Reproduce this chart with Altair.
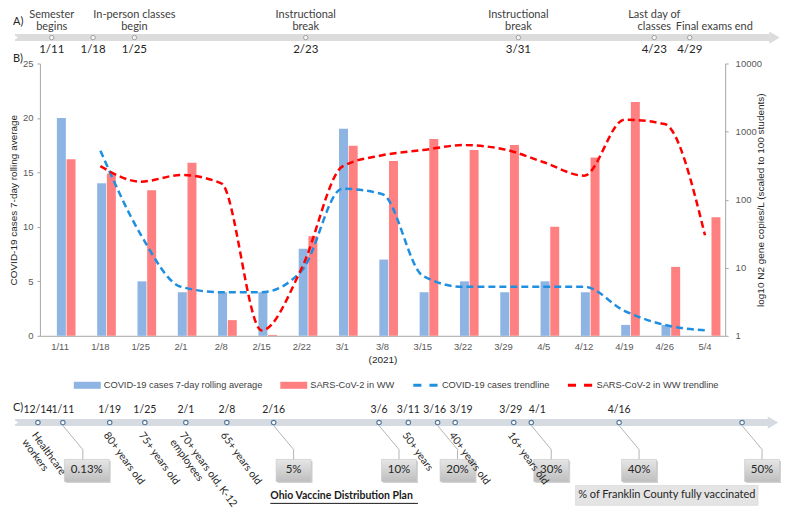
import altair as alt
import pandas as pd

FB = "Liberation Sans"   # Arial-like (panel B)
FT = "Lato"              # Calibri-like (timelines)

# ---------------- Panel A: academic calendar ----------------
a_dates = ["2021/01/11", "2021/01/18", "2021/01/25", "2021/02/23",
           "2021/03/31", "2021/04/23", "2021/04/29"]
a_date_labels = ["1/11", "1/18", "1/25", "2/23", "3/31", "4/23", "4/29"]
a_events = ["Semester\nbegins", "", "In-person classes\nbegin", "Instructional\nbreak",
            "Instructional\nbreak", "Last day of\nclasses", "Final exams end"]

# ---------------- Panel B: weekly data ----------------
weeks = ["1/11", "1/18", "1/25", "2/1", "2/8", "2/15", "2/22", "3/1", "3/8",
         "3/15", "3/22", "3/29", "4/5", "4/12", "4/19", "4/26", "5/4"]
cases_avg = [20, 14, 5, 4, 4, 4, 8, 19, 7, 4, 5, 4, 5, 4, 1, 1, 0]
ww_copies = [391, 243, 138, 348, 1.7, 1.03, 29, 620, 369, 778, 535, 633, 40, 418, 2710, 10.3, 55]
cases_trend = [None, 17, 9.3, 4.5, 4, 4, 6, 13.5, 13, 5.5, 4.5, 4.5, 4.5, 4.5, 2.3, 1, 0.5]
ww_trend = [None, 311, 184, 230, 174, 1.2, 10, 305, 450, 535, 633, 552, 354, 225, 1500, 1290, 30]

legend_names = ["COVID-19 cases 7-day rolling average", "SARS-CoV-2 in WW",
                "COVID-19 cases trendline", "SARS-CoV-2 in WW trendline"]
BLUE_BAR, RED_BAR, BLUE_LINE, RED_LINE = "#8db4e2", "#ff8080", "#1f8fe0", "#ff0000"

# ---------------- Panel C: Ohio vaccine plan ----------------
c_dates = ["2020-12-14", "2021-01-11", "2021-01-19", "2021-01-25", "2021-02-01",
           "2021-02-08", "2021-02-16", "2021-03-06", "2021-03-11", "2021-03-16",
           "2021-03-19", "2021-03-29", "2021-04-01", "2021-04-16", "2021-05-07"]
c_date_labels = ["12/14", "1/11", "1/19", "1/25", "2/1", "2/8", "2/16", "3/6",
                 "3/11", "3/16", "3/19", "3/29", "4/1", "4/16", ""]
c_groups = ["Healthcare\nworkers", "", "80+ years old", "75+ years old",
            "70+ years old, K-12\nemployees", "65+ years old", "", "", "50+ years",
            "", "40+ years old", "16+ years old", "", "", ""]
c_pct = ["", "0.13%", "", "", "", "", "5%", "10%", "", "20%", "", "", "30%", "40%", "50%"]

W = 687

# =============== Panel A ===============
a_df = pd.DataFrame({"date": a_dates, "label": a_date_labels, "event": a_events})
a_span = pd.DataFrame({"start": [a_dates[0]], "end": [a_dates[-1]]})
xa_scale = alt.Scale(domain=[alt.DateTime(year=2021, month=1, date=9),
                             alt.DateTime(year=2021, month=5, date=5)], nice=False)
xa = alt.X("date:T", scale=xa_scale, axis=None)
BAND_A = "#dcdcdc"
YA = 29
a_band = alt.Chart(a_span).mark_rule(strokeWidth=7, color=BAND_A, xOffset=-37, x2Offset=80).encode(
    x=alt.X("start:T", scale=xa_scale, axis=None), x2="end:T", y=alt.value(YA))
a_head = alt.Chart(a_span).mark_point(shape="triangle-right", filled=True, color=BAND_A,
                                      size=150, opacity=1, xOffset=85).encode(
    x=alt.X("end:T", scale=xa_scale, axis=None), y=alt.value(YA))
a_notch = alt.Chart(a_span).mark_point(shape="triangle-right", filled=True, color="white",
                                       size=30, opacity=1, xOffset=-36).encode(
    x=alt.X("start:T", scale=xa_scale, axis=None), y=alt.value(YA))
a_dots = alt.Chart(a_df).mark_circle(size=20, fill="#f5f5f5", stroke="#a0a0a0",
                                     strokeWidth=1, opacity=1).encode(x=xa, y=alt.value(YA))
a_events_t = alt.Chart(a_df).transform_filter(
    f"datum.event != '' && datum.label != '{a_date_labels[-1]}'").mark_text(
    lineBreak="\n", baseline="bottom", align="center", font=FT, fontSize=11,
    lineHeight=12, color="#404040").encode(x=xa, y=alt.value(11), text="event:N")
a_last_t = alt.Chart(a_df).transform_filter(
    f"datum.label == '{a_date_labels[-1]}'").mark_text(
    baseline="bottom", align="left", font=FT, fontSize=11, color="#404040",
    xOffset=-14).encode(x=xa, y=alt.value(23), text="event:N")
a_labels_t = alt.Chart(a_df).mark_text(baseline="middle", align="center", font=FT,
                                       fontSize=11.5, color="#262626").encode(
    x=xa, y=alt.value(41), text="label:N")
a_tag = alt.Chart(pd.DataFrame({"t": ["A)"]})).mark_text(
    align="left", baseline="middle", font=FT, fontSize=11, color="#262626").encode(
    x=alt.value(-27), y=alt.value(13), text="t:N")
panel_a = alt.layer(a_band, a_notch, a_head, a_dots, a_events_t, a_last_t, a_labels_t,
                    a_tag).properties(width=W, height=55)

# =============== Panel B ===============
df_b = pd.DataFrame({"week": weeks, "cases": cases_avg, "ww": ww_copies,
                     "cases_trend": cases_trend, "ww_trend": ww_trend})
GRAY_AX = "#a6a6a6"
FSB = 9.5
x_axis = alt.Axis(title="(2021)", labelAngle=0, ticks=False, domainColor=GRAY_AX,
                  labelFont=FB, labelFontSize=FSB, labelColor="#595959", labelPadding=6,
                  titleFont=FB, titleFontSize=FSB + 0.5, titleFontWeight="normal",
                  titleColor="#262626", titlePadding=3)
xenc = alt.X("week:N", sort=weeks, scale=alt.Scale(paddingInner=0, paddingOuter=0), axis=x_axis)

left_scale = alt.Scale(domain=[0, 25], nice=False, zero=True)
log_scale = alt.Scale(type="log", domain=[1, 10000], nice=False)

blue_bars = alt.Chart(df_b).mark_bar(width=9, xOffset=1.3, color=BLUE_BAR).encode(
    x=xenc,
    y=alt.Y("cases:Q", scale=left_scale,
            axis=alt.Axis(orient="left", values=[0, 5, 10, 15, 20, 25],
                          title="COVID-19 cases 7-day rolling average", grid=False,
                          domainColor=GRAY_AX, tickColor=GRAY_AX, tickSize=3, labelPadding=4,
                          labelFont=FB, labelFontSize=FSB, labelColor="#595959",
                          titleFont=FB, titleFontSize=FSB + 0.5, titleFontWeight="normal",
                          titleColor="#262626", titlePadding=4)))
red_bars = alt.Chart(df_b).mark_bar(width=9, xOffset=11, color=RED_BAR).encode(
    x=xenc,
    y=alt.Y("ww:Q", scale=log_scale,
            axis=alt.Axis(orient="right", values=[1, 10, 100, 1000, 10000], format="d",
                          title="log10 N2 gene copies/L (scaled to 100 students)",
                          titleAngle=270, grid=False, domainColor=GRAY_AX, tickColor=GRAY_AX,
                          tickSize=3, labelPadding=7, labelFont=FB, labelFontSize=FSB,
                          labelColor="#595959", titleFont=FB, titleFontSize=FSB + 0.5,
                          titleFontWeight="normal", titleColor="#262626", titlePadding=4)),
    y2=alt.Y2Datum(1))
line_df = df_b.iloc[1:]
blue_line = alt.Chart(line_df).mark_line(color=BLUE_LINE, strokeWidth=2.5, strokeDash=[7, 4],
                                         interpolate="monotone").encode(
    x=xenc, y=alt.Y("cases_trend:Q", scale=left_scale, axis=None))
red_line = alt.Chart(line_df).mark_line(color=RED_LINE, strokeWidth=2.5, strokeDash=[7, 4],
                                        interpolate="monotone").encode(
    x=xenc, y=alt.Y("ww_trend:Q", scale=log_scale, axis=None))

RECT = "M-1,-0.26H1V0.26H-1Z"
DASH = "M-0.9,-0.11H-0.3V0.11H-0.9Z M0.3,-0.11H0.9V0.11H0.3Z"
leg = alt.Legend(orient="none", legendX=34, legendY=309, direction="horizontal", columns=4,
                 title=None, labelFont=FB, labelFontSize=9.3, labelColor="#404040",
                 symbolSize=729, symbolStrokeWidth=0, columnPadding=17, labelOffset=3,
                 labelLimit=400, symbolOpacity=1)
legend_layer = alt.Chart(pd.DataFrame({"series": legend_names})).transform_filter(
    "false").mark_point(filled=True, opacity=1).encode(
    color=alt.Color("series:N", scale=alt.Scale(domain=legend_names,
                                                range=[BLUE_BAR, RED_BAR, BLUE_LINE, RED_LINE]),
                    legend=leg),
    shape=alt.Shape("series:N", scale=alt.Scale(domain=legend_names,
                                                range=[RECT, RECT, DASH, DASH]),
                    legend=leg))
b_tag = alt.Chart(pd.DataFrame({"t": ["B)"]})).mark_text(
    align="left", baseline="middle", font=FT, fontSize=11, color="#262626").encode(
    x=alt.value(-27), y=alt.value(-5), text="t:N")
panel_b = alt.layer(blue_bars, red_bars, blue_line, red_line, legend_layer, b_tag).resolve_scale(
    y="independent").properties(width=W, height=273)

# =============== Panel C ===============
c_df = pd.DataFrame({"date": c_dates, "label": c_date_labels, "grp": c_groups, "pct": c_pct})
# days relative to 1/11/2021 (derived from the dates)
c_df["day"] = (pd.to_datetime(c_df["date"]) - pd.Timestamp("2021-01-11")).dt.days
# label nudging for dates only a few days apart
gap_prev = c_df["day"].diff().fillna(99)
gap_next = (-c_df["day"].diff(-1)).fillna(99)
c_df["nudge"] = "none"
c_df.loc[gap_next <= 4, "nudge"] = "left"
c_df.loc[gap_prev <= 4, "nudge"] = "right"

c_span = pd.DataFrame({"start": [c_df["day"].iloc[0]], "end": [c_df["day"].iloc[-1]]})
# timeline is compressed before 1/11, linear (about 5.9 px/day) afterwards
c_scale = alt.Scale(domain=[-28, 0, 116], range=[-2, 23, 704], nice=False, zero=False)
xc = alt.X("day:Q", scale=c_scale, axis=None)
BAND_C = "#d5dbe1"
YB = 87
c_band = alt.Chart(c_span).mark_rule(strokeWidth=7, color=BAND_C, xOffset=-23, x2Offset=26).encode(
    x=alt.X("start:Q", scale=c_scale, axis=None), x2="end:Q", y=alt.value(YB))
c_head = alt.Chart(c_span).mark_point(shape="triangle-right", filled=True, color=BAND_C,
                                      size=150, opacity=1, xOffset=31).encode(
    x=alt.X("end:Q", scale=c_scale, axis=None), y=alt.value(YB))
c_notch = alt.Chart(c_span).mark_point(shape="triangle-right", filled=True, color="white",
                                       size=30, opacity=1, xOffset=-22).encode(
    x=alt.X("start:Q", scale=c_scale, axis=None), y=alt.value(YB))
c_dots = alt.Chart(c_df).mark_circle(size=20, fill="white", stroke="#55789e",
                                     strokeWidth=1.1, opacity=1).encode(x=xc, y=alt.value(YB))
date_base = alt.Chart(c_df)
date_kw = dict(baseline="middle", align="center", font=FT, fontSize=10.5, color="#262626")
c_dates_t = alt.layer(
    date_base.transform_filter("datum.nudge == 'none'").mark_text(**date_kw).encode(
        x=xc, y=alt.value(74), text="label:N"),
    date_base.transform_filter("datum.nudge == 'left'").mark_text(xOffset=-3, **date_kw).encode(
        x=xc, y=alt.value(74), text="label:N"),
    date_base.transform_filter("datum.nudge == 'right'").mark_text(xOffset=6, **date_kw).encode(
        x=xc, y=alt.value(74), text="label:N"))
c_groups_t = alt.Chart(c_df).transform_filter("datum.grp != ''").mark_text(
    angle=54, align="left", baseline="top", lineBreak="\n", font=FT, fontSize=10.5,
    lineHeight=12, color="#262626", xOffset=0).encode(x=xc, y=alt.value(95), text="grp:N")

OFF = 20
conn_diag = alt.Chart(c_df).transform_filter("datum.pct != ''").mark_rule(
    color="#b4b4b4", strokeWidth=1, x2Offset=OFF).encode(
    x=xc, x2="day:Q", y=alt.value(YB + 3), y2=alt.value(114))
conn_vert = alt.Chart(c_df).transform_filter("datum.pct != ''").mark_rule(
    color="#b4b4b4", strokeWidth=1, xOffset=OFF).encode(
    x=xc, y=alt.value(114), y2=alt.value(124))

grad = alt.Gradient(gradient="linear",
                    stops=[alt.GradientStop(color="#e6e6e6", offset=0),
                           alt.GradientStop(color="#bfbfbf", offset=1)],
                    x1=0, x2=0, y1=0, y2=1)
BOX = "M-1,-0.63H1V0.63H-1Z"
BOXW = "M-1,-0.49H1V0.49H-1Z"
box_base = alt.Chart(c_df).transform_filter("datum.pct != ''")
narrow = box_base.transform_filter("length(datum.pct) <= 3")
wide = box_base.transform_filter("length(datum.pct) > 3")
shadow_n = narrow.mark_point(shape=BOX, size=35 * 35, filled=True, fill="#9a9a9a", opacity=0.45,
                             xOffset=OFF + 1.5, yOffset=1.5).encode(x=xc, y=alt.value(135))
shadow_w = wide.mark_point(shape=BOXW, size=45 * 45, filled=True, fill="#9a9a9a", opacity=0.45,
                           xOffset=OFF + 4 + 1.5, yOffset=1.5).encode(x=xc, y=alt.value(135))
box_n = narrow.mark_point(shape=BOX, size=35 * 35, filled=True, fill=grad, stroke="#c4c4c4",
                          strokeWidth=0.6, opacity=1, xOffset=OFF).encode(x=xc, y=alt.value(135))
box_w = wide.mark_point(shape=BOXW, size=45 * 45, filled=True, fill=grad, stroke="#c4c4c4",
                        strokeWidth=0.6, opacity=1, xOffset=OFF + 4).encode(x=xc, y=alt.value(135))
pct_n = narrow.mark_text(font=FT, fontSize=11.5, color="#262626", xOffset=OFF).encode(
    x=xc, y=alt.value(135), text="pct:N")
pct_w = wide.mark_text(font=FT, fontSize=11.5, color="#262626", xOffset=OFF + 4).encode(
    x=xc, y=alt.value(135), text="pct:N")

note_df = pd.DataFrame({"t": ["% of Franklin County fully vaccinated"]})
note_box = alt.Chart(note_df).mark_rect(fill="#e4e4e4", stroke="#d4d4d4", strokeWidth=0.6).encode(
    x=alt.value(537), x2=alt.value(720), y=alt.value(150), y2=alt.value(170))
note_t = alt.Chart(note_df).mark_text(font=FT, fontSize=11, color="#262626").encode(
    x=alt.value(628.5), y=alt.value(160), text="t:N")
plan_df = pd.DataFrame({"t": ["Ohio Vaccine Distribution Plan"]})
plan_t = alt.Chart(plan_df).mark_text(font=FT, fontSize=10.5, fontWeight="bold", align="left",
                                      color="#1a1a1a").encode(
    x=alt.value(231), y=alt.value(161), text="t:N")
plan_u = alt.Chart(plan_df).mark_rule(color="#1a1a1a", strokeWidth=1).encode(
    x=alt.value(231), x2=alt.value(379), y=alt.value(168))
c_tag = alt.Chart(pd.DataFrame({"t": ["C)"]})).mark_text(
    align="left", baseline="middle", font=FT, fontSize=11, color="#262626").encode(
    x=alt.value(-27), y=alt.value(72), text="t:N")

panel_c = alt.layer(c_band, c_notch, c_head, conn_diag, conn_vert, c_dots, c_dates_t,
                    shadow_n, shadow_w, box_n, box_w, pct_n, pct_w, c_groups_t,
                    note_box, note_t, plan_t, plan_u, c_tag).properties(width=W, height=172)

chart = alt.vconcat(panel_a, panel_b, panel_c, spacing=0, bounds="flush").resolve_scale(
    x="independent", color="independent", shape="independent").resolve_legend(
    color="independent", shape="independent").configure_view(stroke=None).properties(
    padding=0, background="white")

chart.save("out.html", embed_options={"renderer": "svg", "actions": False})
